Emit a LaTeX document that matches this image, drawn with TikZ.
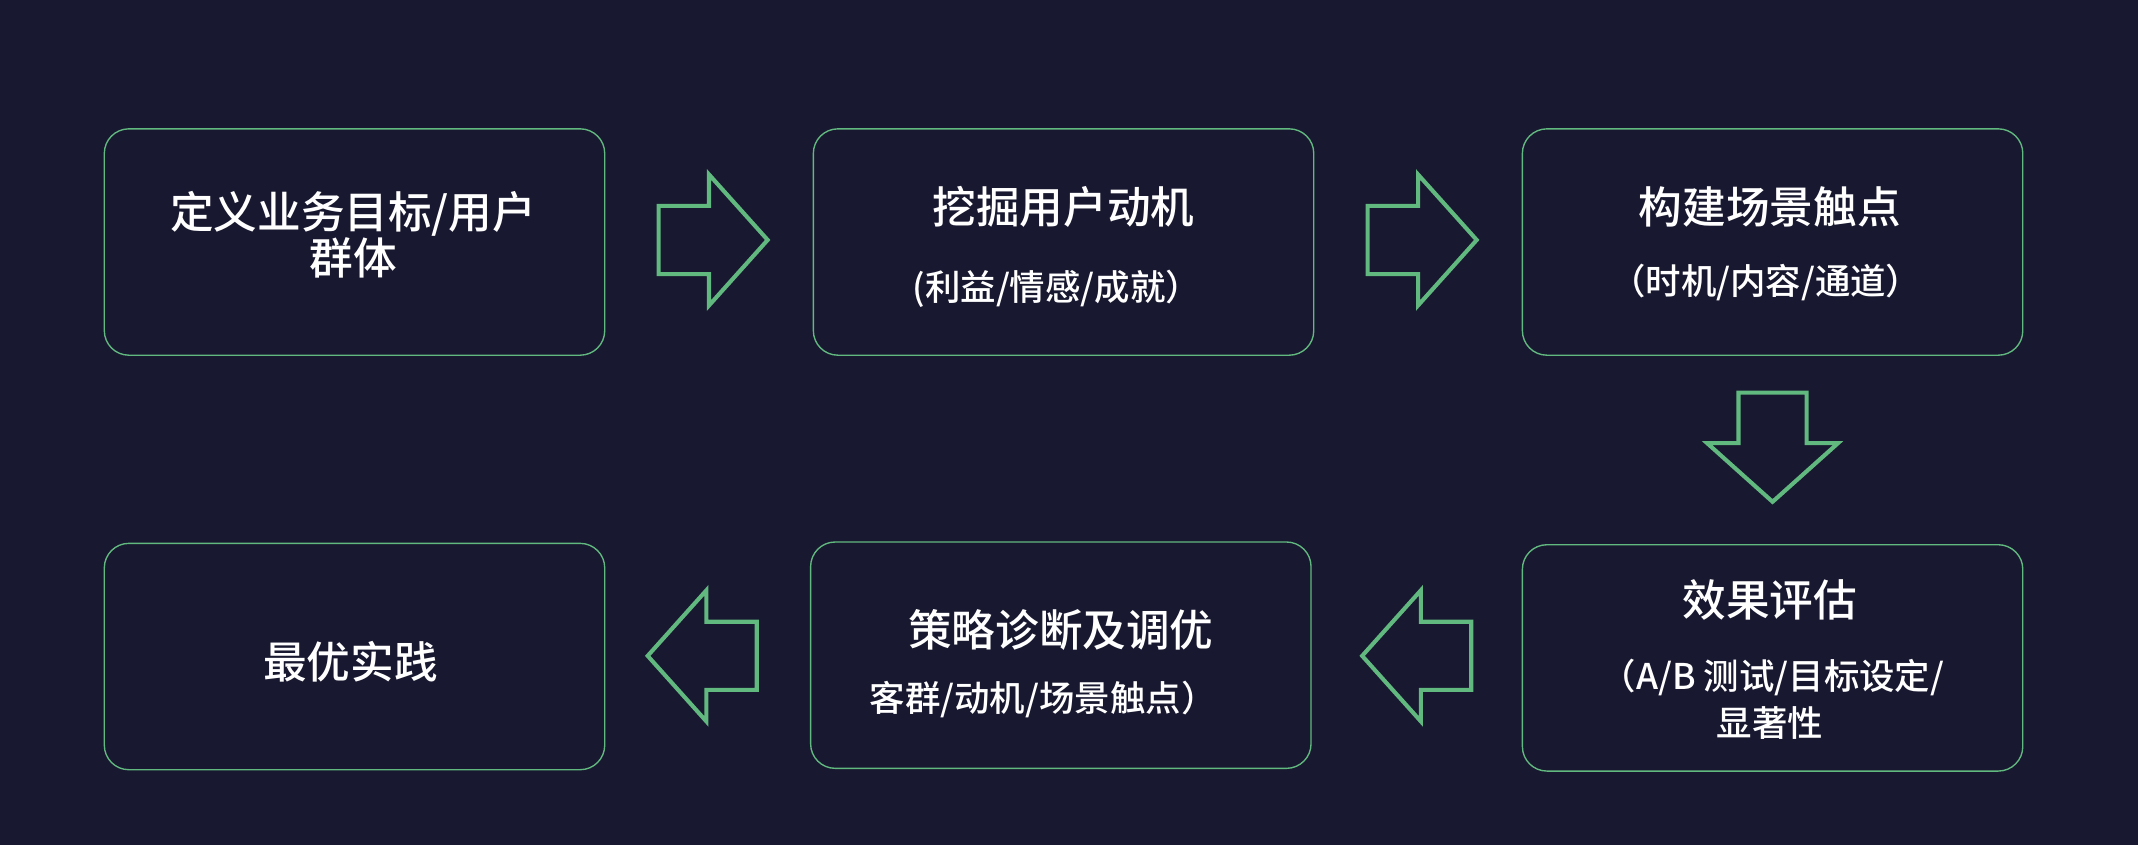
\documentclass[tikz,border=0pt]{standalone}
\usepackage{fontspec}
\newfontfamily\cjk{Noto Sans CJK SC Medium}[BoldFont=Noto Sans CJK SC Bold]
\definecolor{bg}{HTML}{181830}
\definecolor{gr}{HTML}{62B97F}
\begin{document}
\begin{tikzpicture}[x=1pt,y=-1pt,
  box/.style={draw=gr,line width=1pt,rounded corners=18pt,minimum width=367pt,minimum height=166pt,anchor=north west},
  txt/.style={text=white,font=\cjk\fontsize{32}{38}\selectfont,align=center},
  sub/.style={text=white,font=\cjk\fontsize{26}{33}\selectfont,align=center},
  blk/.pic={\draw[gr,line width=3pt,line join=miter] (-40,-25)--(-3,-25)--(-3,-48)--(40,0)--(-3,48)--(-3,25)--(-40,25)--cycle;}]
\fill[bg] (0,0) rectangle (1568,620);
\useasboundingbox (0,0) rectangle (1568,620);
\node[box] (b1) at (76,94) {};
\node[box] (b2) at (596,94) {};
\node[box] (b3) at (1116,94) {};
\node[box] (b4) at (76,398) {};
\node[box] (b5) at (594,397) {};
\node[box] (b6) at (1116,399) {};
\node[txt] (t1) at (259,172) {定义业务目标/用户\\[-4pt]群体};
\node[txt] (t2) at (780,152) {挖掘用户动机};
\node[sub] (s2) at (775,212) {(利益/情感/成就）};
\node[txt] (t3) at (1298,152) {构建场景触点};
\node[sub] (s3) at (1295,207) {（时机/内容/通道）};
\node[txt] (t6) at (1298,440) {效果评估};
\node[sub] (s6) at (1300,497) {（A/B 测试/目标设定/};
\node[sub] (s6b) at (1298,530) {显著性};
\node[txt] (t5) at (778,462) {策略诊断及调优};
\node[sub] (s5) at (765,513) {客群/动机/场景触点）};
\node[txt] (t4) at (257,485) {最优实践};
\pic at (523,176) {blk};
\pic at (1043,176) {blk};
\pic[rotate=-90] at (1300,328) {blk};
\pic[rotate=180] at (515,481) {blk};
\pic[rotate=180] at (1039,481) {blk};
\end{tikzpicture}
\end{document}
